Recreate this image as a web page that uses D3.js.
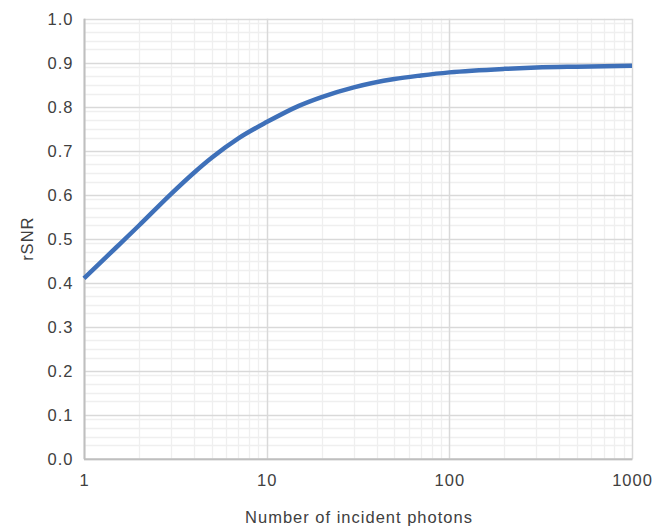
<!DOCTYPE html>
<html>
<head>
<meta charset="utf-8">
<script src="https://cdn.jsdelivr.net/npm/d3@7/dist/d3.min.js"></script>
<style>
  html, body { margin: 0; padding: 0; background: #fff; }
  svg { display: block; }
  text { font-family: "Liberation Sans", Arial, sans-serif; fill: #404040; letter-spacing: 1px; }
</style>
</head>
<body>
<svg id="chart" width="671" height="527"></svg>
<script>
// Data
const photons = [1, 1.5, 2, 3, 4, 5, 7, 10, 15, 20, 30, 50, 70, 100, 200, 300, 500, 1000];
const rsnr    = [0.410, 0.480, 0.530, 0.602, 0.650, 0.684, 0.728, 0.765, 0.802, 0.822, 0.844, 0.863, 0.871, 0.878, 0.886, 0.889, 0.891, 0.893];
const xTicks = [1, 10, 100, 1000];
const yTicks = [0, 0.1, 0.2, 0.3, 0.4, 0.5, 0.6, 0.7, 0.8, 0.9, 1.0];
const xTitle = "Number of incident photons";
const yTitle = "rSNR";

(function () {
const svg = d3.select("#chart");
const pL = 84, pR = 632, pT = 18.7, pB = 458.7;
const fs = 16.5;

const x = d3.scaleLog().domain([1, 1000]).range([pL, pR]);
const y = d3.scaleLinear().domain([0, 1]).range([pB, pT]);

// minor x grid (2..9 in each decade)
const xMinor = [];
for (let d = 1; d < 1000; d *= 10) for (let k = 2; k <= 9; k++) xMinor.push(d * k);
// minor y grid
const yMinor = [];
for (let i = 0; i < 10; i++) [0.03, 0.05, 0.07, 0.09].forEach(o => yMinor.push(+(i * 0.1 + o).toFixed(2)));

const g = svg.append("g");
g.selectAll(".xm").data(xMinor).enter().append("line")
  .attr("x1", d => Math.round(x(d)) + 0.5).attr("x2", d => Math.round(x(d)) + 0.5)
  .attr("y1", pT).attr("y2", pB)
  .attr("stroke", "#efefef").attr("stroke-width", 1.3);
g.selectAll(".ym").data(yMinor).enter().append("line")
  .attr("y1", d => Math.round(y(d)) + 0.5).attr("y2", d => Math.round(y(d)) + 0.5)
  .attr("x1", pL).attr("x2", pR)
  .attr("stroke", "#efefef").attr("stroke-width", 1.3);
// major grid
g.selectAll(".xM").data(xTicks).enter().append("line")
  .attr("x1", d => Math.round(x(d)) + 0.5).attr("x2", d => Math.round(x(d)) + 0.5)
  .attr("y1", pT).attr("y2", pB)
  .attr("stroke", "#d9d9d9").attr("stroke-width", 1.5);
g.selectAll(".yM").data(yTicks).enter().append("line")
  .attr("y1", d => Math.round(y(d)) + 0.5).attr("y2", d => Math.round(y(d)) + 0.5)
  .attr("x1", pL).attr("x2", pR)
  .attr("stroke", "#d9d9d9").attr("stroke-width", 1.5);

// axis lines
svg.append("line").attr("x1", pL + 0.5).attr("x2", pL + 0.5).attr("y1", pT).attr("y2", pB + 0.5)
  .attr("stroke", "#bfbfbf").attr("stroke-width", 2);
svg.append("line").attr("x1", pL).attr("x2", pR + 0.5).attr("y1", pB + 0.5).attr("y2", pB + 0.5)
  .attr("stroke", "#bfbfbf").attr("stroke-width", 2);

// tick labels
svg.selectAll(".yl").data(yTicks).enter().append("text")
  .attr("x", 73.5).attr("y", d => y(d) + 6)
  .attr("text-anchor", "end").attr("font-size", fs)
  .text(d => d3.format(".1f")(d));
svg.selectAll(".xl").data(xTicks).enter().append("text")
  .attr("x", d => x(d) + 0.5).attr("y", 486)
  .attr("text-anchor", "middle").attr("font-size", fs)
  .text(d => d);

// titles
svg.append("text").attr("x", 359).attr("y", 523)
  .attr("text-anchor", "middle").attr("font-size", fs).text(xTitle);
svg.append("text").attr("transform", `translate(32.5,${(pT + pB) / 2}) rotate(-90)`)
  .attr("text-anchor", "middle").attr("font-size", fs).text(yTitle);

// curve
const line = d3.line().x((d, i) => x(photons[i])).y(d => y(d)).curve(d3.curveMonotoneX);
svg.append("path").datum(rsnr).attr("d", line)
  .attr("fill", "none").attr("stroke", "#3e70b9").attr("stroke-width", 4.5)
  .attr("stroke-linecap", "butt").attr("stroke-linejoin", "round");
})();
</script>
</body>
</html>
